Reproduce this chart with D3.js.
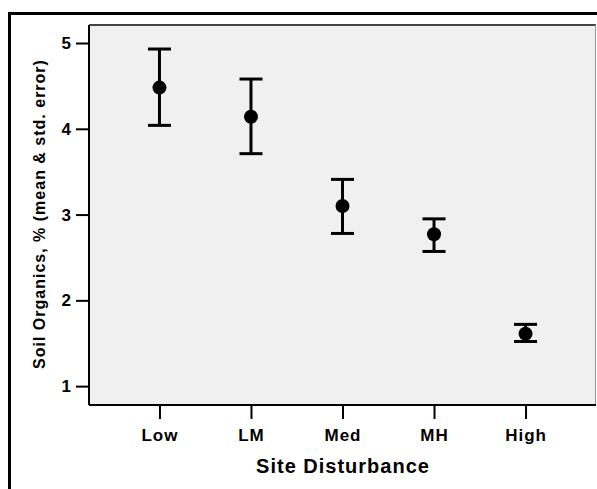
<!DOCTYPE html>
<html>
<head>
<meta charset="utf-8">
<script src="https://cdn.jsdelivr.net/npm/d3@7/dist/d3.min.js"></script>
<style>
html,body{margin:0;padding:0;background:#fff;overflow:hidden;}
svg{display:block;font-family:"Liberation Sans",Arial,sans-serif;}
</style>
</head>
<body>
<svg id="chart" width="597" height="489"></svg>
<script>
const categories = ["Low", "LM", "Med", "MH", "High"];
const means = [4.48, 4.14, 3.10, 2.77, 1.61];
const upper = [4.93, 4.58, 3.41, 2.95, 1.72];
const lower = [4.04, 3.71, 2.78, 2.57, 1.52];
const yTicks = [1, 2, 3, 4, 5];
const xTitle = "Site Disturbance";
const yTitle = "Soil Organics, % (mean & std. error)";

const svg = d3.select("#chart");
const L = 89, R = 596, T = 25, B = 405;

// outer frame
svg.append("rect").attr("x", 9.5).attr("y", 13.5).attr("width", 620).attr("height", 520)
  .attr("fill", "none").attr("stroke", "#000").attr("stroke-width", 3);

// plot background
svg.append("rect").attr("x", L).attr("y", T).attr("width", R - L).attr("height", B - T)
  .attr("fill", "#f0f0f0");
svg.append("line").attr("x1", L).attr("x2", R).attr("y1", T).attr("y2", T)
  .attr("stroke", "#444").attr("stroke-width", 2);
svg.append("line").attr("x1", R - 0.5).attr("x2", R - 0.5).attr("y1", T).attr("y2", B)
  .attr("stroke", "#999").attr("stroke-width", 1);

const x = d3.scalePoint().domain(categories).range([L, R]).padding(0.77);
const y = d3.scaleLinear().domain([5.21, 0.78]).range([T, B]);

// axes
const yAxis = svg.append("g").attr("transform", `translate(${L},0)`)
  .call(d3.axisLeft(y).tickValues(yTicks).tickFormat(d3.format("d")).tickSize(13).tickPadding(4));
const xAxis = svg.append("g").attr("transform", `translate(0,${B})`)
  .call(d3.axisBottom(x).tickSize(14).tickPadding(10));
[yAxis, xAxis].forEach(g => {
  g.attr("font-size", null).attr("font-family", null);
  g.select(".domain").attr("stroke", "#000").attr("stroke-width", 2);
  g.selectAll(".tick line").attr("stroke", "#000").attr("stroke-width", 2);
  g.selectAll(".tick text").attr("fill", "#000")
    .style("font-size", "17px").style("font-weight", "bold").style("letter-spacing", "1px")
    .style("font-family", "'Liberation Sans', Arial, sans-serif");
});
yAxis.select(".domain").attr("d", `M0,${T}V${B}`);
xAxis.select(".domain").attr("d", `M${L},0H${R}`);

// error bars
const idx = d3.range(categories.length);
const g = svg.append("g");
g.selectAll("line.v").data(idx).join("line")
  .attr("x1", i => x(categories[i])).attr("x2", i => x(categories[i]))
  .attr("y1", i => y(upper[i])).attr("y2", i => y(lower[i]))
  .attr("stroke", "#000").attr("stroke-width", 3);
g.selectAll("line.cu").data(idx).join("line")
  .attr("x1", i => x(categories[i]) - 11.5).attr("x2", i => x(categories[i]) + 11.5)
  .attr("y1", i => y(upper[i])).attr("y2", i => y(upper[i]))
  .attr("stroke", "#000").attr("stroke-width", 3);
g.selectAll("line.cl").data(idx).join("line")
  .attr("x1", i => x(categories[i]) - 11.5).attr("x2", i => x(categories[i]) + 11.5)
  .attr("y1", i => y(lower[i])).attr("y2", i => y(lower[i]))
  .attr("stroke", "#000").attr("stroke-width", 3);
g.selectAll("circle").data(idx).join("circle")
  .attr("cx", i => x(categories[i])).attr("cy", i => y(means[i])).attr("r", 7)
  .attr("fill", "#000");

// titles
svg.append("text").attr("x", 343).attr("y", 473).attr("text-anchor", "middle")
  .style("font-size", "20px").style("font-weight", "bold").style("letter-spacing", "1px").text(xTitle);
svg.append("text").attr("transform", "translate(45,214) rotate(-90)").attr("text-anchor", "middle")
  .style("font-size", "16px").style("font-weight", "bold").style("letter-spacing", "1px").text(yTitle);
</script>
</body>
</html>
